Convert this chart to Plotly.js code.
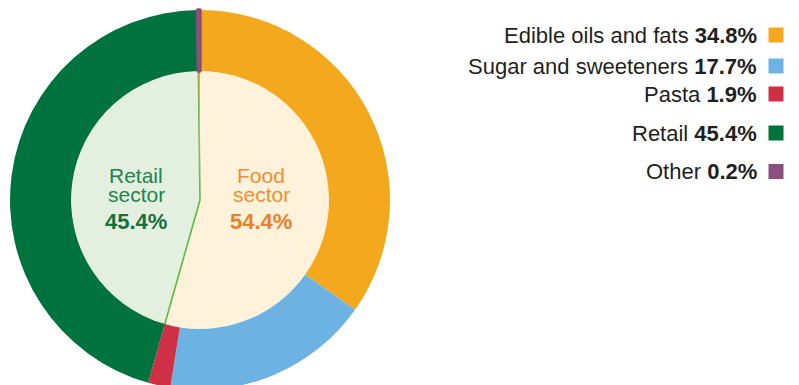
<!DOCTYPE html>
<html>
<head>
<meta charset="utf-8">
<script src="https://cdn.plot.ly/plotly-3.0.1.min.js"></script>
<style>
html,body{margin:0;padding:0;overflow:hidden;background:#fff;}
#chart{width:799px;height:400px;}
</style>
</head>
<body>
<div id="chart"></div>
<script>
// ---- data ----
const outerLabels = ['Edible oils and fats', 'Sugar and sweeteners', 'Pasta', 'Retail', 'Other'];
const outerValues = [34.8, 17.7, 1.9, 45.4, 0.2];
const outerColors = ['#F4A81D', '#6CB3E3', '#CE3045', '#00723D', '#8B4F7F'];

const innerLabels = ['Food sector', 'Retail sector', 'Other'];
const innerValues = [54.4, 45.4, 0.2];
const innerColors = ['#FEF2DA', '#E3F0DF', '#F4A81D'];

// ---- geometry (pixels) ----
const W = 799, H = 400;
const cx = 200, cy = 200, rOuter = 190, rInner = 130;
const px = v => v / W;
const py = v => 1 - v / H;

const innerTrace = {
  type: 'pie',
  labels: innerLabels,
  values: innerValues,
  sort: false,
  direction: 'clockwise',
  rotation: 0,
  textinfo: 'none',
  hoverinfo: 'label+value',
  showlegend: false,
  marker: {
    colors: innerColors,
    line: {color: ['#FEF2DA', '#5DB844', '#F4A81D'], width: [0, 1.6, 0]}
  },
  domain: {x: [px(cx - rInner), px(cx + rInner)], y: [1 - (cy + rInner) / H, 1 - (cy - rInner) / H]}
};

const outerTrace = {
  type: 'pie',
  labels: outerLabels,
  values: outerValues,
  sort: false,
  direction: 'clockwise',
  rotation: 0,
  hole: (rInner - 1) / rOuter,
  textinfo: 'none',
  hoverinfo: 'label+value',
  showlegend: false,
  marker: {
    colors: outerColors,
    line: {color: outerColors, width: [0, 0, 0, 0, 3.5]}
  },
  domain: {x: [px(cx - rOuter), px(cx + rOuter)], y: [1 - (cy + rOuter) / H, 1 - (cy - rOuter) / H]}
};

// ---- legend (custom, right aligned with squares on the right) ----
const legendRowY = [35, 66, 94, 133, 171.5];
const legendTextRight = 759;
const legendSquareX = 776;
const annotations = [];
const shapes = [];
outerLabels.forEach((lab, i) => {
  annotations.push({
    xref: 'paper', yref: 'paper',
    x: px(legendTextRight), y: py(legendRowY[i]),
    xanchor: 'right', yanchor: 'middle',
    text: lab + ' <b>' + outerValues[i].toFixed(1) + '%</b>',
    showarrow: false,
    font: {family: 'Liberation Sans, Arial, sans-serif', size: 22, color: '#1f1f1f'}
  });
  shapes.push({
    type: 'rect', xref: 'paper', yref: 'paper',
    xsizemode: 'pixel', ysizemode: 'pixel',
    xanchor: px(legendSquareX), yanchor: py(legendRowY[i]),
    x0: -7.5, x1: 7.5, y0: -7.5, y1: 7.5,
    fillcolor: outerColors[i], line: {width: 0}
  });
});

// ---- inner labels ----
function innerLabel(xc, lines, pctText, colNorm, colBold) {
  const ys = [175, 194];
  lines.forEach((t, k) => annotations.push({
    xref: 'paper', yref: 'paper', x: px(xc), y: py(ys[k]),
    xanchor: 'center', yanchor: 'middle', showarrow: false, text: t,
    font: {family: 'Liberation Sans, Arial, sans-serif', size: 21, color: colNorm}
  }));
  annotations.push({
    xref: 'paper', yref: 'paper', x: px(xc), y: py(221.5),
    xanchor: 'center', yanchor: 'middle', showarrow: false, text: '<b>' + pctText + '</b>',
    font: {family: 'Liberation Sans, Arial, sans-serif', size: 22, color: colBold}
  });
}
innerLabel(136, ['Retail', 'sector'], innerValues[1].toFixed(1) + '%', '#23834A', '#17703D');
innerLabel(261, ['Food', 'sector'], innerValues[0].toFixed(1) + '%', '#EF8C35', '#E9812A');

const layout = {
  width: W, height: H,
  margin: {l: 0, r: 0, t: 0, b: 0},
  paper_bgcolor: '#ffffff',
  showlegend: false,
  annotations: annotations,
  shapes: shapes
};

Plotly.newPlot('chart', [innerTrace, outerTrace], layout, {staticPlot: true, displayModeBar: false});
</script>
</body>
</html>
